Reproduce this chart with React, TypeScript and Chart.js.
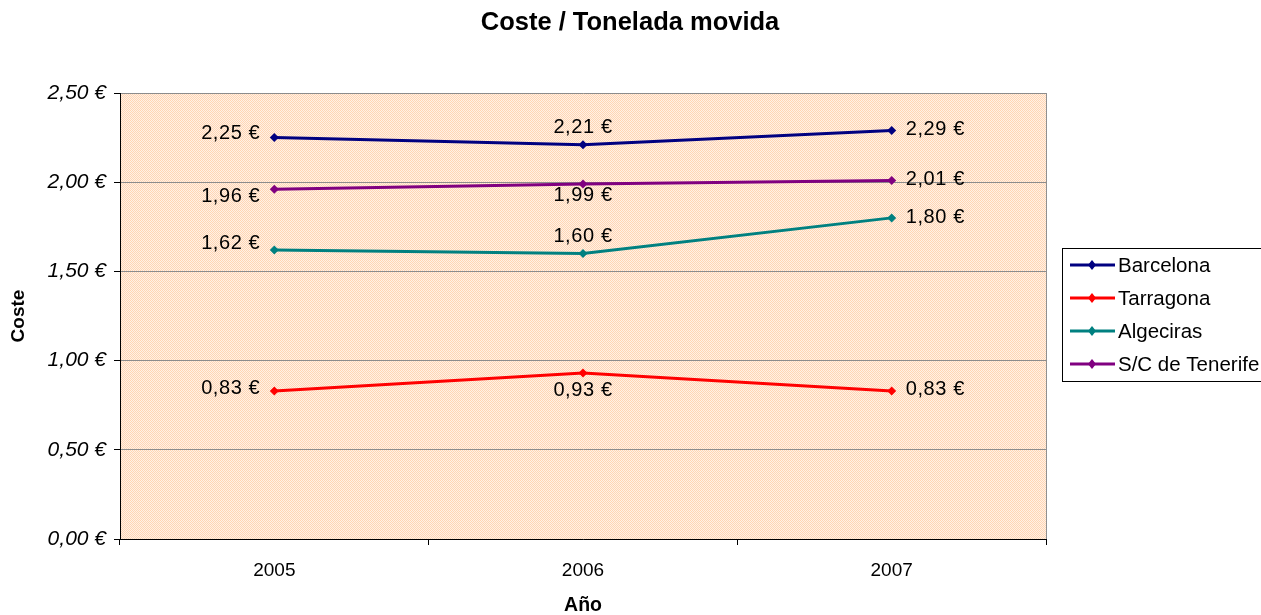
import React, { useEffect, useRef } from "react";
import { Chart, registerables } from "chart.js";

Chart.register(...registerables);

const categories = ["2005", "2006", "2007"];
const seriesNames = ["Barcelona", "Tarragona", "Algeciras", "S/C de Tenerife"];
const barcelona = [2.25, 2.21, 2.29];
const tarragona = [0.83, 0.93, 0.83];
const algeciras = [1.62, 1.6, 1.8];
const tenerife = [1.96, 1.99, 2.01];
const yTicks = [0, 0.5, 1, 1.5, 2, 2.5];
const colors = ["#000080", "#FF0000", "#008080", "#800080"];

// label placement per series/point: [side, vertical nudge]
const LABEL_LAYOUT: [string, number][][] = [
  [["left", -4], ["above", 0], ["right", -1]],
  [["left", -2], ["below", 0], ["right", -1]],
  [["left", -7], ["above", 0], ["right", 0]],
  [["left", 7], ["below", -5], ["right", -1]],
];

const FONT = "'Liberation Sans', Arial, sans-serif";

const fmt = (v: number) => v.toFixed(2).replace(".", ",") + " €";

export default function App() {
  const ref = useRef<HTMLCanvasElement | null>(null);

  useEffect(() => {
    document.body.style.margin = "0";
    const canvas = ref.current!;
    const pc = document.createElement("canvas");
    pc.width = 2;
    pc.height = 2;
    const pctx = pc.getContext("2d")!;
    pctx.fillStyle = "rgb(255,241,229)";
    pctx.fillRect(0, 0, 2, 2);
    pctx.fillStyle = "rgb(255,213,180)";
    pctx.fillRect(0, 0, 1, 1);
    pctx.fillRect(1, 1, 1, 1);

    const bgPlugin = {
      id: "bg",
      beforeDraw(chart: any) {
        const { ctx, chartArea: a } = chart;
        ctx.save();
        const pat = ctx.createPattern(pc, "repeat");
        ctx.fillStyle = pat;
        ctx.fillRect(a.left, a.top, a.right - a.left, a.bottom - a.top);
        ctx.restore();
      },
      afterDraw(chart: any) {
        const { ctx, chartArea: a } = chart;
        ctx.save();
        // plot border right
        ctx.strokeStyle = "#909090";
        ctx.lineWidth = 1;
        ctx.beginPath();
        ctx.moveTo(Math.round(a.right) + 0.5, a.top);
        ctx.lineTo(Math.round(a.right) + 0.5, a.bottom);
        ctx.stroke();
        // title
        ctx.fillStyle = "#000";
        ctx.font = `bold 25.5px ${FONT}`;
        ctx.textAlign = "center";
        ctx.textBaseline = "middle";
        ctx.fillText("Coste / Tonelada movida", 630, 23);
        // legend
        ctx.strokeStyle = "#000";
        ctx.lineWidth = 1;
        ctx.strokeRect(1062.5, 248.5, 220, 133);
        ctx.font = `20.5px ${FONT}`;
        ctx.textAlign = "left";
        seriesNames.forEach((name, i) => {
          const y = 265 + 33 * i;
          ctx.strokeStyle = colors[i];
          ctx.fillStyle = colors[i];
          ctx.lineWidth = 3;
          ctx.beginPath();
          ctx.moveTo(1070, y);
          ctx.lineTo(1115, y);
          ctx.stroke();
          ctx.beginPath();
          ctx.moveTo(1092, y - 5);
          ctx.lineTo(1096, y);
          ctx.lineTo(1092, y + 5);
          ctx.lineTo(1088, y);
          ctx.closePath();
          ctx.fill();
          ctx.fillStyle = "#000";
          ctx.fillText(name, 1118, y + 1);
        });
        ctx.restore();
      },
    };

    const labelPlugin = {
      id: "vlabels",
      afterDatasetsDraw(chart: any) {
        const ctx = chart.ctx;
        ctx.save();
        ctx.font = `20px ${FONT}`;
        try {
          (ctx as any).letterSpacing = "0.6px";
        } catch (e) {}
        ctx.fillStyle = "#000";
        chart.data.datasets.forEach((ds: any, di: number) => {
          const meta = chart.getDatasetMeta(di);
          meta.data.forEach((pt: any, i: number) => {
            const [side, dy] = LABEL_LAYOUT[di][i];
            const text = fmt(ds.data[i]);
            let x = pt.x;
            let y = pt.y + dy;
            ctx.textBaseline = "middle";
            if (side === "left") {
              ctx.textAlign = "right";
              x -= 14;
            } else if (side === "right") {
              ctx.textAlign = "left";
              x += 14;
            } else if (side === "above") {
              ctx.textAlign = "center";
              y -= 17;
            } else {
              ctx.textAlign = "center";
              y += 17;
            }
            ctx.fillText(text, x, y);
          });
        });
        ctx.restore();
      },
    };

    const data = [barcelona, tarragona, algeciras, tenerife];
    const chart = new Chart(canvas, {
      type: "line",
      data: {
        labels: categories,
        datasets: seriesNames.map((n, i) => ({
          label: n,
          data: data[i],
          borderColor: colors[i],
          backgroundColor: colors[i],
          borderWidth: 3,
          pointStyle: "rectRot",
          pointRadius: 4.5,
          pointBorderWidth: 0,
          pointBackgroundColor: colors[i],
          tension: 0,
        })),
      },
      options: {
        animation: false,
        responsive: false,
        maintainAspectRatio: false,
        layout: { padding: { top: 93, right: 215, left: 0, bottom: 0 } },
        plugins: {
          legend: { display: false },
          title: { display: false },
          tooltip: { enabled: false },
        },
        scales: {
          x: {
            type: "category",
            offset: true,
            grid: {
              offset: true,
              drawOnChartArea: false,
              drawTicks: true,
              tickLength: 6,
              tickColor: "#000",
            },
            border: { color: "#000", width: 1 },
            ticks: {
              color: "#000",
              font: { family: FONT, size: 19 },
              padding: 14,
              maxRotation: 0,
            },
            title: {
              display: true,
              text: "Año",
              color: "#000",
              font: { family: FONT, size: 19.5, weight: "bold", lineHeight: 1 },
              padding: 0,
            },
            afterFit(scale: any) {
              scale.height = 76;
            },
          },
          y: {
            min: 0,
            max: 2.5,
            afterBuildTicks(scale: any) {
              scale.ticks = yTicks.map((v) => ({ value: v }));
            },
            grid: {
              color: "#8c8c8c",
              tickColor: "#000",
              tickLength: 6,
            },
            border: { color: "#000", width: 1 },
            ticks: {
              color: "#000",
              font: { family: FONT, size: 21, style: "italic" },
              padding: 8,
              callback: (v: any) => fmt(Number(v)),
            },
            title: {
              display: true,
              text: "Coste",
              color: "#000",
              font: { family: FONT, size: 19, weight: "bold", lineHeight: 1 },
              padding: { top: 9, bottom: 0 },
            },
            afterFit(scale: any) {
              scale.width = 120;
            },
          },
        },
      },
      plugins: [bgPlugin, labelPlugin],
    } as any);
    return () => chart.destroy();
  }, []);

  return <canvas ref={ref} width={1261} height={615} style={{ display: "block" }} />;
}
